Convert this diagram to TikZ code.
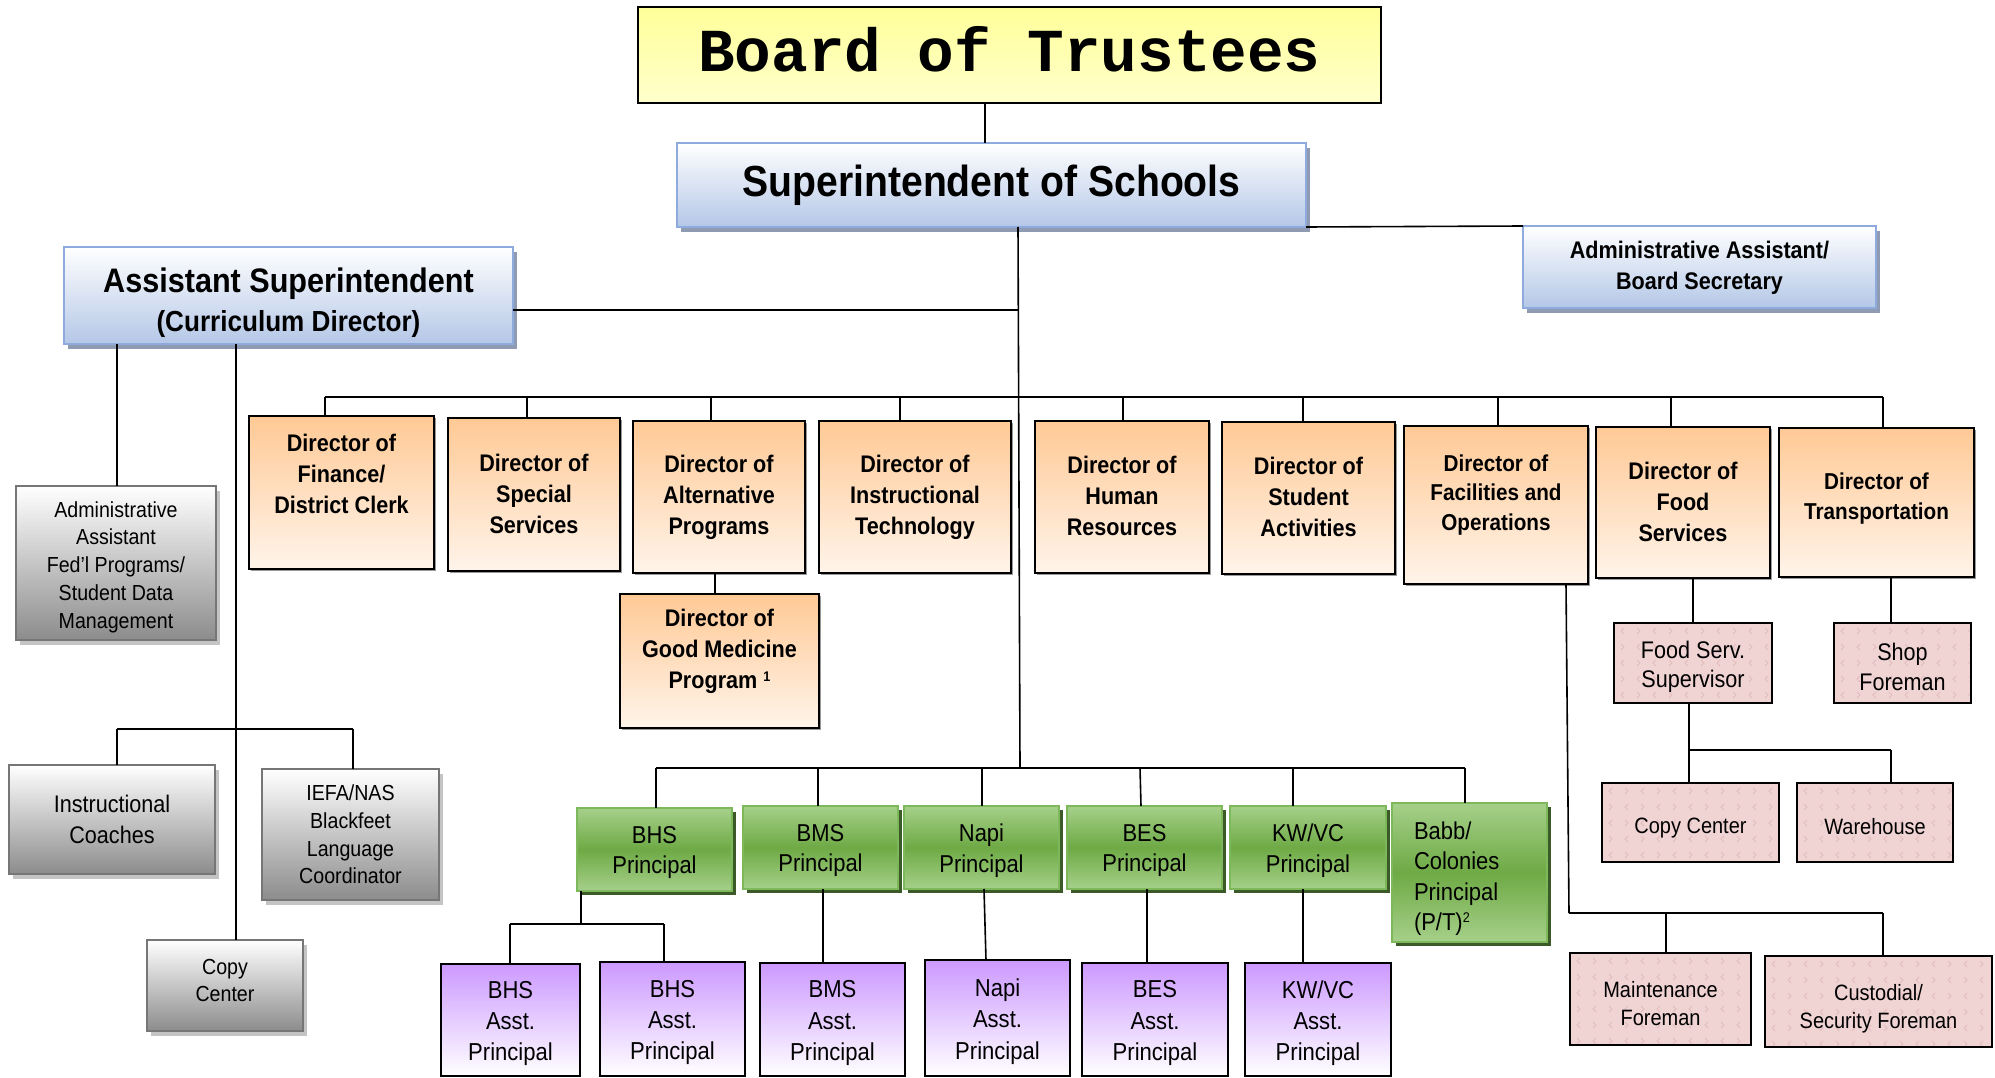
\documentclass[tikz,border=0pt]{standalone}
\usepackage{fontspec}
\setmainfont{Liberation Sans}[FakeStretch=0.9]
\newfontfamily\boardfont{Liberation Mono}
\usetikzlibrary{shadows,calc}

\definecolor{blueF}{HTML}{B4C7E7}
\definecolor{blueD}{HTML}{8FAADC}
\definecolor{blueS}{HTML}{8E9BB3}
\definecolor{grayF}{HTML}{8C8C8C}
\definecolor{grayD}{HTML}{767676}
\definecolor{grayS}{HTML}{C4C4C4}
\definecolor{oraT}{HTML}{FFC995}
\definecolor{oraB}{HTML}{FFF4EA}
\definecolor{grnL}{HTML}{A6D08A}
\definecolor{grnM}{HTML}{6EAA45}
\definecolor{grnD}{HTML}{7DB85A}
\definecolor{grnS}{HTML}{3B5A28}
\definecolor{purT}{HTML}{CC99FF}
\definecolor{pinkF}{HTML}{F0D3D3}
\definecolor{pinkM}{HTML}{E3BDBD}
\definecolor{yelT}{HTML}{FFFF99}
\definecolor{yelB}{HTML}{FFFFCC}

\newcommand{\orgbox}[8]{%
  \pgfmathsetmacro{\obw}{#5-#3}\pgfmathsetmacro{\obh}{#6-#4}%
  \node[#1, anchor=north west, minimum width=\obw pt, minimum height=\obh pt] (#2) at (#3,#4) {};
  \node[#7] (#2-t) at (#2.center) {#8};}

\tikzset{
  every node/.style={inner sep=0pt, outer sep=0pt},
  conn/.style={line width=1.6pt, black},
  yellowbox/.style={draw=black, line width=2pt, top color=yelT, bottom color=yelB},
  bluebox/.style={draw=blueD, line width=2.2pt, top color=white, bottom color=blueF,
     drop shadow={shadow xshift=4pt, shadow yshift=-5pt, fill=blueS, opacity=1}},
  graybox/.style={draw=grayD, line width=2.5pt, top color=white, bottom color=grayF,
     drop shadow={shadow xshift=4pt, shadow yshift=-5pt, fill=grayS, opacity=1}},
  orabox/.style={draw=black, line width=2pt, top color=oraT, bottom color=oraB,
     drop shadow={shadow xshift=1.5pt, shadow yshift=-1.5pt, fill=black!40, opacity=1}},
  grnbox/.style={draw=grnD, line width=2.5pt, top color=grnL, bottom color=grnL, middle color=grnM,
     drop shadow={shadow xshift=4pt, shadow yshift=-4pt, fill=grnS, opacity=1}},
  purbox/.style={draw=black, line width=2pt, top color=purT, bottom color=white},
  pinkbox/.style={draw=black, line width=2pt, fill=pinkF,
     path picture={
       \coordinate (pnw) at (path picture bounding box.north west);
       \foreach \i in {0,...,14}{\foreach \j in {0,...,6}{
         \pgfmathtruncatemacro{\chpar}{mod(\i+\j,2)}
         \ifnum\chpar=0
           \draw[pinkM, line width=0.9pt]
             ($(pnw)+(\i*16+10,\j*16+5)$) -- ++(-3,3) -- ++(3,3);
         \else
           \draw[pinkM, line width=0.9pt]
             ($(pnw)+(\i*16+7,\j*16+5)$) -- ++(3,3) -- ++(-3,3);
         \fi}}}},
  txt/.style={align=center, text=black},
  boardtxt/.style={txt, font=\boardfont\bfseries\fontsize{61}{61}\selectfont},
  supttxt/.style={txt, font=\bfseries\fontsize{43.5}{48}\selectfont},
  asttxt/.style={txt, font=\bfseries\fontsize{34}{39}\selectfont},
  bsmall/.style={txt, font=\bfseries\fontsize{24}{31}\selectfont},
  dirtxt/.style={txt, font=\bfseries\fontsize{24}{31}\selectfont},
  dirtxtS/.style={txt, font=\bfseries\fontsize{23}{29.5}\selectfont},
  gtxt/.style={txt, font=\fontsize{21.8}{27.8}\selectfont},
  gtxtB/.style={txt, font=\fontsize{24}{31.7}\selectfont},
  ptxt/.style={txt, font=\fontsize{24.4}{30.5}\selectfont},
  atxt/.style={txt, font=\fontsize{24.5}{31.2}\selectfont},
  pktxt/.style={txt, font=\fontsize{24}{29.5}\selectfont},
  pktxtS/.style={txt, font=\fontsize{22.2}{28.3}\selectfont},
}

\begin{document}
\begin{tikzpicture}[x=1pt, y=-1pt]
\useasboundingbox (0,0) rectangle (1995,1078);

% ---------- top ----------
\orgbox{yellowbox}{board}{638}{7}{1381}{103}{boardtxt, yshift=6pt}{Board of Trustees}
\orgbox{bluebox}{supt}{677}{143}{1306}{227}{supttxt}{Superintendent of Schools}
\orgbox{bluebox}{asec}{1523}{226}{1876}{308}{bsmall, yshift=-1pt}{Administrative Assistant/\\Board Secretary}
\orgbox{bluebox}{asst}{64}{247}{513}{344}{asttxt, yshift=-7pt}{Assistant Superintendent\\{\fontsize{29}{39}\selectfont (Curriculum Director)}}

% ---------- gray (curriculum) ----------
\orgbox{graybox}{aafed}{16}{486}{216}{640}{gtxt, yshift=-4pt}{Administrative\\Assistant\\Fed’l Programs/\\Student Data\\Management}
\orgbox{graybox}{coach}{9}{765}{215}{874}{gtxtB}{Instructional\\Coaches}
\orgbox{graybox}{iefa}{262}{769}{439}{900}{gtxt}{IEFA/NAS\\Blackfeet\\Language\\Coordinator}
\orgbox{graybox}{copyg}{147}{940}{303}{1031}{gtxt, yshift=5pt}{Copy\\Center}

% ---------- directors ----------
\orgbox{orabox}{fin}{249}{416}{434}{569}{dirtxt, yshift=19pt}{Director of\\Finance/\\District Clerk}
\orgbox{orabox}{spec}{448}{418}{620}{571}{dirtxt, yshift=1pt}{Director of\\Special\\Services}
\orgbox{orabox}{alt}{633}{421}{805}{573}{dirtxt}{Director of\\Alternative\\Programs}
\orgbox{orabox}{tech}{819}{421}{1011}{573}{dirtxt}{Director of\\Instructional\\Technology}
\orgbox{orabox}{hr}{1035}{421}{1209}{573}{dirtxt, yshift=1pt}{Director of\\Human\\Resources}
\orgbox{orabox}{stu}{1222}{422}{1395}{574}{dirtxt, yshift=1pt}{Director of\\Student\\Activities}
\orgbox{orabox}{fac}{1404}{426}{1588}{584}{dirtxtS, yshift=10pt}{Director of\\Facilities and\\Operations}
\orgbox{orabox}{food}{1596}{427}{1770}{578}{dirtxt, yshift=1pt}{Director of\\Food\\Services}
\orgbox{orabox}{trans}{1779}{428}{1974}{577}{dirtxtS, yshift=4pt}{Director of\\Transportation}
\orgbox{orabox}{goodmed}{620}{594}{819}{728}{dirtxt, yshift=10pt}{Director of\\Good Medicine\\Program {\fontsize{14}{14}\selectfont\raisebox{7pt}{1}}}

% ---------- pink (operations) ----------
\orgbox{pinkbox}{fss}{1614}{623}{1772}{703}{pktxt, yshift=-4pt}{Food Serv.\\Supervisor}
\orgbox{pinkbox}{shop}{1834}{623}{1971}{703}{pktxt, yshift=-4pt}{Shop\\Foreman}
\orgbox{pinkbox}{copyp}{1602}{783}{1779}{862}{pktxtS, yshift=-6pt}{Copy Center}
\orgbox{pinkbox}{ware}{1797}{783}{1953}{862}{pktxtS, yshift=-4pt}{Warehouse}
\orgbox{pinkbox}{maint}{1570}{953}{1751}{1045}{pktxtS, yshift=-4.5pt}{Maintenance\\Foreman}
\orgbox{pinkbox}{cust}{1765}{956}{1992}{1047}{pktxtS, yshift=-7pt}{Custodial/\\Security Foreman}

% ---------- principals ----------
\orgbox{grnbox}{bhs}{577}{808}{732}{891}{ptxt, yshift=-3pt}{BHS\\Principal}
\orgbox{grnbox}{bms}{743}{806}{898}{889}{ptxt, yshift=-3pt}{BMS\\Principal}
\orgbox{grnbox}{napi}{904}{806}{1059}{889}{ptxt, yshift=-3pt}{Napi\\Principal}
\orgbox{grnbox}{bes}{1067}{806}{1222}{889}{ptxt, yshift=-3pt}{BES\\Principal}
\orgbox{grnbox}{kwvc}{1230}{806}{1386}{889}{ptxt, yshift=-3pt}{KW/VC\\Principal}
\pgfmathsetmacro{\obw}{1547-1392}\pgfmathsetmacro{\obh}{942-803}
\node[grnbox, anchor=north west, minimum width=\obw pt, minimum height=\obh pt] (babb) at (1392,803) {};
\node[ptxt, align=left, anchor=west] (babb-t) at ([xshift=22pt, yshift=-6pt]babb.west) {Babb/\\Colonies\\Principal\\(P/T){\fontsize{14}{14}\selectfont\raisebox{8pt}{2}}};

% ---------- assistant principals ----------
\orgbox{purbox}{bhsa1}{441}{964}{580}{1076}{atxt, yshift=-3.5pt}{BHS\\Asst.\\Principal}
\orgbox{purbox}{bhsa2}{600}{962}{745}{1076}{atxt, yshift=-3.5pt}{BHS\\Asst.\\Principal}
\orgbox{purbox}{bmsa}{760}{963}{905}{1076}{atxt, yshift=-3.5pt}{BMS\\Asst.\\Principal}
\orgbox{purbox}{napia}{925}{960}{1070}{1076}{atxt, yshift=-3.5pt}{Napi\\Asst.\\Principal}
\orgbox{purbox}{besa}{1082}{963}{1228}{1076}{atxt, yshift=-3.5pt}{BES\\Asst.\\Principal}
\orgbox{purbox}{kwvca}{1245}{963}{1391}{1076}{atxt, yshift=-3.5pt}{KW/VC\\Asst.\\Principal}

% ---------- connectors ----------
\coordinate (dbus) at (0,397);
\coordinate (pbus) at (0,768);
\coordinate (cbus) at (0,729);
\coordinate (hbus) at (0,924);
\coordinate (wbus) at (0,750);
\coordinate (mbus) at (0,913);
\coordinate (abus) at (0,310);

\draw[conn] (board.south -| 985,0) -- (supt.north -| 985,0);
\draw[conn] (supt.south east) -- (asec.north west);
\draw[conn] (supt.south -| 1018,0) -- (pbus -| 1020,0);
\draw[conn] (asst.east |- abus) -- (abus -| 1018,0);

% directors bus
\draw[conn] (dbus -| 325,0) -- (dbus -| 1883,0);
\draw[conn] (dbus -| 325,0) -- (fin.north -| 325,0);
\draw[conn] (dbus -| 527,0) -- (spec.north -| 527,0);
\draw[conn] (dbus -| 711,0) -- (alt.north -| 711,0);
\draw[conn] (dbus -| 900,0) -- (tech.north -| 900,0);
\draw[conn] (dbus -| 1123,0) -- (hr.north -| 1123,0);
\draw[conn] (dbus -| 1303,0) -- (stu.north -| 1303,0);
\draw[conn] (dbus -| 1498,0) -- (fac.north -| 1498,0);
\draw[conn] (dbus -| 1671,0) -- (food.north -| 1671,0);
\draw[conn] (dbus -| 1883,0) -- (trans.north -| 1883,0);
\draw[conn] (alt.south -| 715,0) -- (goodmed.north -| 715,0);

% curriculum side
\draw[conn] (asst.south -| 117,0) -- (aafed.north -| 117,0);
\draw[conn] (asst.south -| 236,0) -- (copyg.north -| 236,0);
\draw[conn] (cbus -| 117,0) -- (cbus -| 353,0);
\draw[conn] (cbus -| 117,0) -- (coach.north -| 117,0);
\draw[conn] (cbus -| 353,0) -- (iefa.north -| 353,0);

% principals bus
\draw[conn] (pbus -| 656,0) -- (pbus -| 1465,0);
\draw[conn] (pbus -| 656,0) -- (bhs.north -| 656,0);
\draw[conn] (pbus -| 818,0) -- (bms.north -| 818,0);
\draw[conn] (pbus -| 982,0) -- (napi.north -| 982,0);
\draw[conn] (pbus -| 1140,0) -- (bes.north -| 1141,0);
\draw[conn] (pbus -| 1293,0) -- (kwvc.north -| 1293,0);
\draw[conn] (pbus -| 1465,0) -- (babb.north -| 1465,0);

% assistant principals
\draw[conn] (bhs.south -| 581,0) -- (hbus -| 581,0);
\draw[conn] (hbus -| 510,0) -- (hbus -| 664,0);
\draw[conn] (hbus -| 510,0) -- (bhsa1.north -| 510,0);
\draw[conn] (hbus -| 664,0) -- (bhsa2.north -| 664,0);
\draw[conn] (bms.south -| 823,0) -- (bmsa.north -| 823,0);
\draw[conn] (napi.south -| 984,0) -- (napia.north -| 986,0);
\draw[conn] (bes.south -| 1147,0) -- (besa.north -| 1147,0);
\draw[conn] (kwvc.south -| 1303,0) -- (kwvca.north -| 1303,0);

% operations
\draw[conn] (food.south -| 1693,0) -- (fss.north -| 1693,0);
\draw[conn] (trans.south -| 1891,0) -- (shop.north -| 1891,0);
\draw[conn] (fss.south -| 1689,0) -- (copyp.north -| 1689,0);
\draw[conn] (wbus -| 1689,0) -- (wbus -| 1891,0);
\draw[conn] (wbus -| 1891,0) -- (ware.north -| 1891,0);
\draw[conn] (fac.south -| 1566,0) -- (mbus -| 1569,0);
\draw[conn] (mbus -| 1569,0) -- (mbus -| 1883,0);
\draw[conn] (mbus -| 1666,0) -- (maint.north -| 1666,0);
\draw[conn] (mbus -| 1883,0) -- (cust.north -| 1883,0);
\end{tikzpicture}
\end{document}
